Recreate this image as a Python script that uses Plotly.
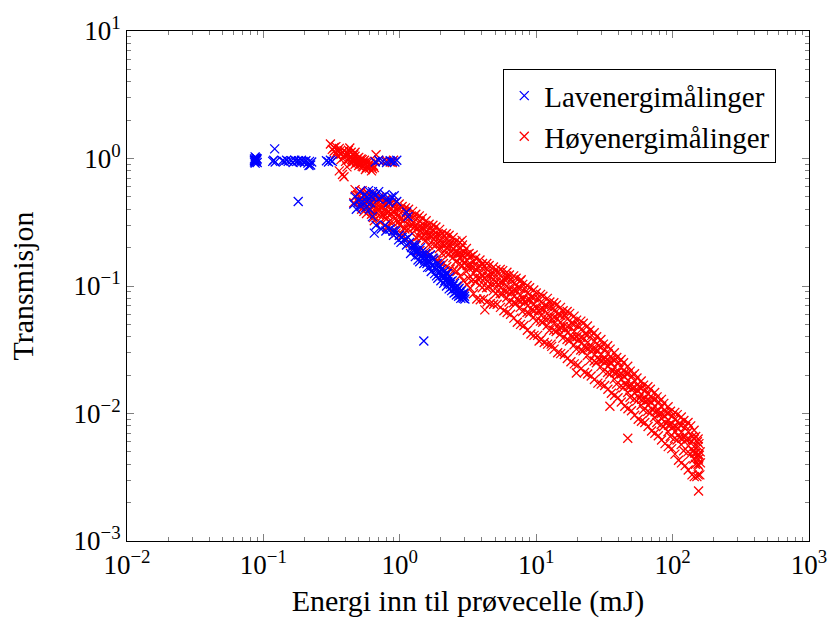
import plotly.graph_objects as go

# ---------------- data (energy in mJ, transmission) ----------------
low_energy_mj = [
    0.086, 0.087, 0.088, 0.086, 0.089, 0.090, 0.087, 0.088, 0.089, 0.086, 0.090, 0.087,
    0.121,
    0.117, 0.119, 0.122, 0.138, 0.142, 0.148, 0.152, 0.160, 0.165, 0.170, 0.176, 0.181,
    0.186, 0.190, 0.195, 0.200, 0.205, 0.212, 0.218, 0.222, 0.226, 0.216,
    0.180,
    0.29, 0.30, 0.31, 0.32, 0.66, 0.70, 0.75,
    0.80, 0.85, 0.88, 0.92, 0.95,
    0.46, 0.48, 0.50, 0.52, 0.55, 0.57, 0.59, 0.60, 0.62, 0.63, 0.65, 0.70,
    0.78, 0.83, 0.85, 0.90, 0.98, 1.02,
    1.15, 1.20, 1.25, 1.30, 1.35, 1.40, 1.45, 1.50, 1.55, 1.60, 1.65, 1.70, 1.75, 1.80,
    1.85, 1.90, 1.95, 2.00, 2.05, 2.10, 2.15, 2.20, 2.25, 2.30, 2.35, 2.40, 2.45, 2.50,
    2.55, 2.60, 2.65, 2.70, 2.75, 2.80, 2.90, 3.00, 2.20, 1.60, 1.30, 0.87, 0.78, 0.70,
    0.64, 0.95, 0.91, 1.15, 1.12,
    1.32, 1.38, 1.42, 1.48, 1.36,
    1.55, 1.62, 1.68, 1.72, 1.78, 1.82, 1.88, 1.93, 1.97,
    2.02, 2.08, 2.12, 2.18, 2.23, 2.28, 2.33, 2.38, 2.42, 2.48,
    2.52, 2.58, 2.63, 2.68, 2.72, 2.78, 2.84, 2.88, 2.95, 2.98,
    0.93, 0.99, 1.04, 1.08, 1.12, 1.18, 1.22, 1.27,
    0.47, 0.51, 0.53, 0.56, 0.58, 0.61, 0.63, 0.67, 0.73, 0.79, 0.89, 0.74, 0.81, 0.67,
    1.28, 1.34, 1.44, 1.52, 1.58, 1.66, 1.74, 1.86, 1.92, 2.04, 2.14, 2.26, 2.36, 2.46,
    2.56, 2.66, 2.76, 2.86, 2.92,
    1.50,
]
low_transmission = [
    0.99, 0.96, 1.01, 0.94, 0.97, 0.93, 1.03, 0.95, 1.00, 0.97, 0.99, 0.92,
    1.19,
    0.95, 0.97, 0.94, 0.96, 0.95, 0.97, 0.95, 0.96, 0.93, 0.97, 0.95, 0.96,
    0.94, 0.97, 0.95, 0.93, 0.96, 0.92, 0.95, 0.89, 0.94, 0.88,
    0.46,
    0.96, 0.94, 0.97, 0.95, 0.94, 0.97, 0.95,
    0.93, 0.96, 0.95, 0.94, 0.97,
    0.44, 0.40, 0.47, 0.42, 0.52, 0.46, 0.56, 0.40, 0.50, 0.35, 0.26, 0.48,
    0.30, 0.45, 0.28, 0.25, 0.23, 0.22,
    0.24, 0.18, 0.21, 0.17, 0.19, 0.155, 0.175, 0.15, 0.165, 0.14, 0.155, 0.13, 0.145, 0.125,
    0.135, 0.115, 0.13, 0.11, 0.12, 0.105, 0.118, 0.10, 0.108, 0.095, 0.103, 0.092, 0.10, 0.088,
    0.095, 0.085, 0.092, 0.083, 0.09, 0.08, 0.085, 0.079, 0.125, 0.17, 0.21, 0.50, 0.52, 0.55,
    0.53, 0.46, 0.51, 0.35, 0.38,
    0.19, 0.175, 0.20, 0.165, 0.16,
    0.18, 0.16, 0.175, 0.145, 0.16, 0.14, 0.15, 0.125, 0.145,
    0.135, 0.12, 0.13, 0.112, 0.125, 0.105, 0.118, 0.098, 0.11, 0.095,
    0.105, 0.09, 0.10, 0.087, 0.096, 0.085, 0.092, 0.082, 0.088, 0.083,
    0.27, 0.25, 0.24, 0.23, 0.21, 0.22, 0.20, 0.19,
    0.50, 0.55, 0.46, 0.41, 0.50, 0.45, 0.55, 0.30, 0.28, 0.27, 0.27, 0.50, 0.48, 0.52,
    0.20, 0.185, 0.185, 0.16, 0.15, 0.14, 0.165, 0.12, 0.14, 0.125, 0.11, 0.115, 0.108, 0.102,
    0.097, 0.094, 0.088, 0.086, 0.08,
    0.037,
]

high_energy_mj = [
    # upper cluster
    0.31, 0.32, 0.33, 0.34, 0.35, 0.35, 0.36, 0.37, 0.37, 0.38, 0.38, 0.39, 0.40, 0.40,
    0.41, 0.42, 0.43, 0.43, 0.44, 0.45, 0.46, 0.46, 0.47, 0.48, 0.49, 0.50, 0.50, 0.51,
    0.52, 0.53, 0.54, 0.55, 0.56, 0.57, 0.58, 0.60, 0.61, 0.62, 0.64, 0.67, 0.66, 0.70,
    0.75, 0.80, 0.85, 0.90, 0.88, 0.41, 0.36, 0.39,
    0.39, 0.42, 0.44, 0.45, 0.47, 0.48, 0.49, 0.51, 0.52, 0.53, 0.54, 0.56, 0.57, 0.58,
    0.59, 0.60, 0.62, 0.63, 0.65, 0.55, 0.47, 0.42, 0.36, 0.34, 0.33,
    # diagonal band
    0.47, 0.49, 0.475, 0.50, 0.46,
    0.51, 0.505, 0.52, 0.50, 0.515, 0.525,
    0.53, 0.55, 0.52, 0.56, 0.535, 0.545,
    0.57, 0.565, 0.58, 0.56, 0.575, 0.57,
    0.59, 0.615, 0.585, 0.61, 0.60, 0.62,
    0.635, 0.64, 0.625, 0.645, 0.63, 0.64,
    0.66, 0.68, 0.655, 0.69, 0.67, 0.65,
    0.71, 0.72, 0.70, 0.715, 0.705, 0.72,
    0.74, 0.77, 0.73, 0.76, 0.75, 0.78,
    0.79, 0.80, 0.785, 0.81, 0.795, 0.80,
    0.83, 0.85, 0.82, 0.86, 0.84, 0.81,
    0.88, 0.90, 0.89, 0.905, 0.875, 0.895,
    0.93, 0.96, 0.92, 0.95, 0.97, 0.94,
    0.99, 1.00, 0.985, 1.01, 0.995, 1.00,
    1.04, 1.07, 1.03, 1.06, 1.08, 1.05,
    1.10, 1.12, 1.11, 1.13, 1.09, 1.115,
    1.16, 1.20, 1.17, 1.21, 1.15, 1.19,
    1.24, 1.26, 1.25, 1.27, 1.23, 1.255,
    1.31, 1.34, 1.29, 1.35, 1.32, 1.30,
    1.39, 1.41, 1.40, 1.42, 1.38, 1.405,
    1.46, 1.50, 1.47, 1.51, 1.45, 1.49,
    1.56, 1.58, 1.57, 1.59, 1.55, 1.575,
    1.64, 1.68, 1.65, 1.69, 1.63, 1.67,
    1.75, 1.77, 1.76, 1.78, 1.74, 1.765,
    1.84, 1.88, 1.85, 1.90, 1.83, 1.87,
    1.96, 1.98, 1.97, 1.99, 1.95, 1.975,
    2.05, 2.11, 2.06, 2.12, 2.04, 2.09,
    2.19, 2.22, 2.20, 2.23, 2.18, 2.21,
    2.30, 2.36, 2.31, 2.37, 2.29, 2.34,
    2.46, 2.49, 2.47, 2.50, 2.45, 2.48,
    2.58, 2.64, 2.59, 2.66, 2.57, 2.62,
    2.75, 2.78, 2.76, 2.79, 2.74, 2.77,
    2.88, 2.95, 2.90, 2.97, 2.86, 2.93,
    3.08, 3.11, 3.09, 3.12, 3.07, 3.10,
    3.22, 3.31, 3.25, 3.33, 3.20, 3.28,
    3.45, 3.48, 3.46, 3.49, 3.44, 3.47,
    3.60, 3.70, 3.63, 3.72, 3.58, 3.67,
    3.87, 3.90, 3.88, 3.91, 3.86, 3.89,
    4.04, 4.15, 4.06, 4.18, 4.02, 4.12,
    4.34, 4.37, 4.35, 4.38, 4.33, 4.36,
    4.52, 4.66, 4.55, 4.69, 4.50, 4.62,
    4.86, 4.89, 4.87, 4.90, 4.85, 4.88,
    5.07, 5.22, 5.10, 5.25, 5.04, 5.17,
    5.45, 5.48, 5.46, 5.49, 5.44, 5.47,
    5.68, 5.85, 5.71, 5.88, 5.65, 5.80,
    6.10, 6.13, 6.11, 6.14, 6.09, 6.12,
    6.36, 6.55, 6.40, 6.58, 6.33, 6.49,
    6.84, 6.87, 6.85, 6.88, 6.83, 6.86,
    7.12, 7.34, 7.17, 7.38, 7.09, 7.27,
    7.66, 7.69, 7.67, 7.70, 7.65, 7.68,
    7.97, 8.21, 8.02, 8.26, 7.93, 8.14,
    8.58, 8.63, 8.60, 8.65, 8.56, 8.61,
    8.95, 9.22, 9.01, 9.28, 8.91, 9.15,
    9.60, 9.66, 9.63, 9.68, 9.58, 9.64,
    10.0, 10.35, 10.1, 10.4, 9.98, 10.25,
    10.77, 10.84, 10.8, 10.86, 10.74, 10.82,
    11.2, 11.55, 11.3, 11.6, 11.15, 11.45,
    12.07, 12.14, 12.1, 12.16, 12.04, 12.12,
    12.6, 12.98, 12.7, 13.05, 12.5, 12.86,
    13.47, 13.55, 13.5, 13.57, 13.44, 13.52,
    14.07, 14.5, 14.18, 14.58, 14.0, 14.37,
    15.07, 15.15, 15.1, 15.18, 15.04, 15.12,
    15.75, 16.23, 15.86, 16.32, 15.68, 16.08,
    16.86, 16.95, 16.9, 16.98, 16.83, 16.92,
    17.6, 18.15, 17.75, 18.25, 17.52, 17.98,
    18.95, 19.05, 19.0, 19.08, 18.92, 19.02,
    19.78, 20.38, 19.93, 20.5, 19.7, 20.2,
    21.25, 21.36, 21.3, 21.4, 21.2, 21.32,
    22.14, 22.82, 22.3, 22.95, 22.05, 22.6,
    23.74, 23.87, 23.8, 23.9, 23.7, 23.83,
    24.8, 25.55, 24.98, 25.7, 24.7, 25.3,
    26.63, 26.78, 26.7, 26.82, 26.58, 26.73,
    27.75, 28.6, 27.95, 28.76, 27.63, 28.33,
    29.82, 29.98, 29.9, 30.03, 29.77, 29.94,
    31.1, 32.05, 31.3, 32.2, 30.97, 31.75,
    33.42, 33.6, 33.5, 33.65, 33.35, 33.54,
    34.83, 35.9, 35.08, 36.1, 34.7, 35.57,
    37.4, 37.6, 37.5, 37.7, 37.35, 37.56,
    38.97, 40.15, 39.25, 40.4, 38.8, 39.8,
    41.9, 42.12, 42.0, 42.2, 41.8, 42.05,
    43.7, 45.0, 44.0, 45.3, 43.5, 44.6,
    46.9, 47.15, 47.0, 47.25, 46.8, 47.07,
    48.9, 50.4, 49.25, 50.7, 48.7, 49.95,
    52.6, 52.85, 52.7, 52.95, 52.45, 52.77,
    54.8, 56.5, 55.2, 56.8, 54.6, 55.97,
    58.9, 59.15, 59.0, 59.3, 58.75, 59.08,
    61.3, 63.2, 61.7, 63.5, 61.05, 62.6,
    65.9, 66.2, 66.0, 66.35, 65.7, 66.08,
    68.7, 70.8, 69.2, 71.2, 68.4, 70.15,
    73.9, 74.2, 74.0, 74.4, 73.7, 74.1,
    76.95, 79.3, 77.5, 79.75, 76.6, 78.6,
    82.8, 83.1, 82.9, 83.3, 82.5, 83.0,
    86.2, 88.8, 86.8, 89.35, 85.8, 88.0,
    92.7, 93.0, 92.8, 93.3, 92.4, 92.9,
    96.5, 99.5, 97.2, 100.1, 96.1, 98.6,
    103.8, 104.3, 104.0, 104.6, 103.5, 104.1,
    108.2, 111.5, 109.0, 112.2, 107.8, 110.5,
    115.8, 116.4, 116.0, 116.7, 115.5, 116.1,
    121.0, 124.7, 121.9, 125.5, 120.5, 123.6,
    129.8, 130.4, 130.0, 130.8, 129.4, 130.1,
    135.8, 139.9, 136.8, 140.8, 135.2, 138.7,
    143.7, 144.4, 144.0, 144.8, 143.3, 144.1,
    147.6, 152.1, 148.7, 153.0, 147.0, 150.7,
    153.8, 154.4, 154.0, 154.7, 153.5, 154.1,
    156.0, 159.5, 157.0, 160.0, 155.5, 158.5,
    # scattered outliers
    2.86, 4.2, 6.05, 7.76, 10.5, 13.0, 19.7, 34.7, 46.9, 155.0,
]
high_transmission = [
    1.30, 1.18, 1.22, 1.10, 1.15, 1.05, 1.20, 1.08, 0.98, 1.12, 0.75, 1.02, 1.06, 0.95,
    1.10, 0.98, 1.21, 1.03, 0.92, 1.00, 0.95, 1.07, 0.90, 0.98, 0.93, 1.02, 0.88, 0.95,
    0.90, 0.98, 0.86, 0.92, 0.82, 0.95, 0.88, 0.84, 0.92, 0.80, 0.88, 1.07, 0.95, 0.97,
    0.95, 0.96, 0.94, 0.97, 0.93, 0.86, 0.80, 0.72,
    1.15, 1.08, 1.12, 0.97, 1.04, 0.94, 1.00, 0.92, 0.99, 0.87, 0.94, 0.90, 0.85, 0.93,
    0.86, 0.90, 0.87, 0.83, 0.85, 0.97, 1.12, 1.16, 1.13, 1.24, 1.14,
    0.57, 0.52, 0.51, 0.46, 0.45,
    0.55, 0.51, 0.485, 0.455, 0.43, 0.40,
    0.56, 0.50, 0.49, 0.44, 0.415, 0.385,
    0.54, 0.505, 0.47, 0.44, 0.41, 0.37,
    0.53, 0.51, 0.45, 0.44, 0.39, 0.365,
    0.525, 0.49, 0.45, 0.42, 0.385, 0.345,
    0.515, 0.47, 0.45, 0.40, 0.38, 0.325,
    0.50, 0.465, 0.425, 0.395, 0.36, 0.315,
    0.49, 0.44, 0.42, 0.37, 0.355, 0.30,
    0.48, 0.44, 0.40, 0.37, 0.335, 0.29,
    0.465, 0.44, 0.38, 0.37, 0.32, 0.285,
    0.455, 0.42, 0.38, 0.35, 0.32, 0.27,
    0.45, 0.40, 0.38, 0.33, 0.315, 0.26,
    0.44, 0.40, 0.36, 0.335, 0.30, 0.25,
    0.42, 0.395, 0.34, 0.33, 0.285, 0.25,
    0.41, 0.375, 0.34, 0.31, 0.28, 0.232,
    0.40, 0.35, 0.34, 0.295, 0.28, 0.215,
    0.385, 0.345, 0.315, 0.29, 0.26, 0.21,
    0.365, 0.34, 0.29, 0.285, 0.24, 0.205,
    0.355, 0.32, 0.29, 0.27, 0.245, 0.19,
    0.34, 0.30, 0.285, 0.25, 0.24, 0.18,
    0.325, 0.295, 0.27, 0.25, 0.228, 0.178,
    0.305, 0.285, 0.25, 0.245, 0.21, 0.175,
    0.30, 0.27, 0.25, 0.232, 0.212, 0.165,
    0.29, 0.255, 0.245, 0.215, 0.21, 0.158,
    0.278, 0.25, 0.23, 0.215, 0.197, 0.153,
    0.26, 0.245, 0.215, 0.21, 0.18, 0.15,
    0.257, 0.232, 0.213, 0.198, 0.182, 0.142,
    0.25, 0.22, 0.21, 0.185, 0.178, 0.136,
    0.24, 0.215, 0.197, 0.182, 0.167, 0.132,
    0.225, 0.21, 0.185, 0.178, 0.155, 0.13,
    0.22, 0.198, 0.18, 0.165, 0.15, 0.12,
    0.21, 0.185, 0.175, 0.15, 0.145, 0.11,
    0.197, 0.177, 0.16, 0.145, 0.13, 0.103,
    0.18, 0.17, 0.145, 0.14, 0.115, 0.096,
    0.175, 0.155, 0.14, 0.126, 0.112, 0.087,
    0.165, 0.14, 0.135, 0.114, 0.108, 0.079,
    0.16, 0.142, 0.127, 0.115, 0.102, 0.078,
    0.15, 0.142, 0.12, 0.115, 0.097, 0.079,
    0.15, 0.134, 0.12, 0.109, 0.097, 0.075,
    0.145, 0.126, 0.119, 0.103, 0.098, 0.073,
    0.141, 0.126, 0.113, 0.103, 0.092, 0.072,
    0.135, 0.127, 0.107, 0.103, 0.087, 0.072,
    0.135, 0.12, 0.107, 0.097, 0.087, 0.068,
    0.132, 0.113, 0.107, 0.091, 0.087, 0.064,
    0.128, 0.113, 0.10, 0.09, 0.081, 0.062,
    0.122, 0.113, 0.094, 0.09, 0.075, 0.06,
    0.12, 0.105, 0.093, 0.083, 0.074, 0.056,
    0.115, 0.097, 0.092, 0.077, 0.073, 0.052,
    0.11, 0.096, 0.085, 0.076, 0.068, 0.05,
    0.103, 0.095, 0.079, 0.075, 0.063, 0.049,
    0.101, 0.088, 0.078, 0.07, 0.062, 0.045,
    0.097, 0.082, 0.078, 0.065, 0.061, 0.042,
    0.093, 0.081, 0.072, 0.064, 0.057, 0.041,
    0.088, 0.08, 0.067, 0.064, 0.053, 0.041,
    0.086, 0.075, 0.066, 0.059, 0.053, 0.038,
    0.083, 0.07, 0.066, 0.055, 0.052, 0.036,
    0.08, 0.069, 0.061, 0.055, 0.049, 0.035,
    0.075, 0.069, 0.057, 0.055, 0.045, 0.035,
    0.074, 0.064, 0.057, 0.051, 0.045, 0.032,
    0.071, 0.06, 0.056, 0.046, 0.044, 0.030,
    0.068, 0.059, 0.052, 0.047, 0.042, 0.0295,
    0.064, 0.059, 0.048, 0.046, 0.039, 0.029,
    0.063, 0.055, 0.048, 0.043, 0.038, 0.027,
    0.061, 0.051, 0.048, 0.04, 0.037, 0.0255,
    0.058, 0.05, 0.044, 0.039, 0.0345, 0.0245,
    0.054, 0.049, 0.040, 0.038, 0.032, 0.024,
    0.053, 0.0455, 0.0395, 0.0355, 0.0315, 0.0225,
    0.051, 0.042, 0.039, 0.033, 0.031, 0.021,
    0.0485, 0.0415, 0.036, 0.0325, 0.0285, 0.0204,
    0.045, 0.041, 0.033, 0.032, 0.026, 0.0197,
    0.043, 0.037, 0.032, 0.029, 0.0258, 0.0185,
    0.040, 0.034, 0.0315, 0.0265, 0.025, 0.0173,
    0.038, 0.033, 0.029, 0.0262, 0.0233, 0.017,
    0.035, 0.032, 0.0265, 0.0257, 0.0215, 0.0166,
    0.034, 0.0295, 0.026, 0.0236, 0.021, 0.0155,
    0.032, 0.027, 0.0252, 0.0215, 0.0203, 0.0144,
    0.030, 0.026, 0.023, 0.0209, 0.0186, 0.0139,
    0.0275, 0.0252, 0.021, 0.0201, 0.017, 0.0133,
    0.0265, 0.0231, 0.0204, 0.0185, 0.0165, 0.0123,
    0.025, 0.021, 0.0197, 0.0168, 0.0159, 0.0114,
    0.0235, 0.0205, 0.0181, 0.0164, 0.0146, 0.0109,
    0.0215, 0.0197, 0.0165, 0.0158, 0.0134, 0.0105,
    0.0205, 0.018, 0.016, 0.0145, 0.013, 0.0097,
    0.019, 0.0162, 0.0152, 0.0132, 0.0125, 0.009,
    0.018, 0.0158, 0.0141, 0.0129, 0.0116, 0.0087,
    0.0167, 0.0154, 0.013, 0.0125, 0.0107, 0.0085,
    0.0162, 0.0143, 0.0127, 0.0116, 0.0104, 0.0079,
    0.0155, 0.0132, 0.0124, 0.0107, 0.0101, 0.0073,
    0.0146, 0.0128, 0.0114, 0.0103, 0.0093, 0.007,
    0.0135, 0.0123, 0.0104, 0.0099, 0.0085, 0.0067,
    0.0129, 0.0113, 0.01, 0.0091, 0.0082, 0.0062,
    0.012, 0.0103, 0.0096, 0.0084, 0.0079, 0.0058,
    0.0113, 0.01, 0.0089, 0.0081, 0.0072, 0.0055,
    0.0104, 0.0096, 0.0082, 0.0078, 0.0066, 0.0053,
    0.0102, 0.009, 0.008, 0.0072, 0.0064, 0.0048,
    0.0098, 0.0083, 0.0077, 0.0065, 0.0062, 0.0043,
    0.0094, 0.0081, 0.0071, 0.0064, 0.0057, 0.0041,
    0.0088, 0.0079, 0.0065, 0.0062, 0.0051, 0.0039,
    0.0085, 0.0072, 0.0063, 0.0056, 0.005, 0.0036,
    0.008, 0.0066, 0.0061, 0.0051, 0.0048, 0.0033,
    0.0074, 0.0063, 0.0055, 0.0049, 0.0044, 0.0032,
    0.0066, 0.006, 0.0049, 0.0047, 0.004, 0.0032,
    0.0063, 0.0055, 0.0048, 0.0044, 0.004, 0.0033,
    0.0058, 0.005, 0.0047, 0.0041, 0.0039, 0.0033,
    0.228, 0.065, 0.12, 0.112, 0.037, 0.0336, 0.0208, 0.0114, 0.0064, 0.00247,
]

major_ticks = [1e-2, 1e-1, 1e0, 1e1, 1e2, 1e3]
x_tick_labels = ["10<sup>−2</sup>", "10<sup>−1</sup>", "10<sup>0</sup>",
                 "10<sup>1</sup>", "10<sup>2</sup>", "10<sup>3</sup>"]
y_major_ticks = [1e-3, 1e-2, 1e-1, 1e0, 1e1]
y_tick_labels = ["10<sup>−3</sup>", "10<sup>−2</sup>", "10<sup>−1</sup>",
                 "10<sup>0</sup>", "10<sup>1</sup>"]
x_minor = [m * 10.0 ** e for e in range(-2, 3) for m in range(2, 10)]
y_minor = [m * 10.0 ** e for e in range(-3, 1) for m in range(2, 10)]

FONT = "Liberation Serif"

fig = go.Figure()
# high-energy series drawn first so the low-energy marks sit on top
fig.add_trace(go.Scatter(
    x=high_energy_mj, y=high_transmission, mode="markers", name="Høyenergimålinger",
    marker=dict(symbol="x-thin", size=9, color="#ff0000",
                line=dict(color="#ff0000", width=1.3)),
))
fig.add_trace(go.Scatter(
    x=low_energy_mj, y=low_transmission, mode="markers", name="Lavenergimålinger",
    marker=dict(symbol="x-thin", size=9, color="#0000ff",
                line=dict(color="#0000ff", width=1.3)),
))

axis_common = dict(
    type="log", showgrid=False, zeroline=False,
    showline=True, linecolor="black", linewidth=1, mirror="ticks",
    ticks="inside", ticklen=7, tickwidth=1, tickcolor="#808080",
    tickfont=dict(family=FONT, size=27, color="black"),
)

fig.update_xaxes(
    **axis_common, range=[-2, 3], tickmode="array", tickvals=major_ticks,
    ticktext=x_tick_labels,
    minor=dict(tickmode="array", tickvals=x_minor, ticks="inside", ticklen=4,
               tickcolor="#808080", tickwidth=1, showgrid=False),
    title=dict(text="Energi inn til prøvecelle (mJ)",
               font=dict(family=FONT, size=30, color="black"), standoff=10),
)
fig.update_yaxes(
    **axis_common, range=[-3, 1], tickmode="array", tickvals=y_major_ticks,
    ticktext=y_tick_labels,
    minor=dict(tickmode="array", tickvals=y_minor, ticks="inside", ticklen=4,
               tickcolor="#808080", tickwidth=1, showgrid=False),
    title=dict(text="Transmisjon", font=dict(family=FONT, size=30, color="black"),
               standoff=30),
)

fig.update_layout(
    width=839, height=623,
    margin=dict(l=127, r=20, t=24, b=80),
    paper_bgcolor="white", plot_bgcolor="white",
    showlegend=True,
    legend=dict(x=0.952, y=0.925, xanchor="right", yanchor="top",
                bgcolor="white", bordercolor="black", borderwidth=1,
                font=dict(family=FONT, size=29, color="black"),
                itemwidth=30, tracegroupgap=0, traceorder="reversed"),
)

fig.write_html("out.html")
